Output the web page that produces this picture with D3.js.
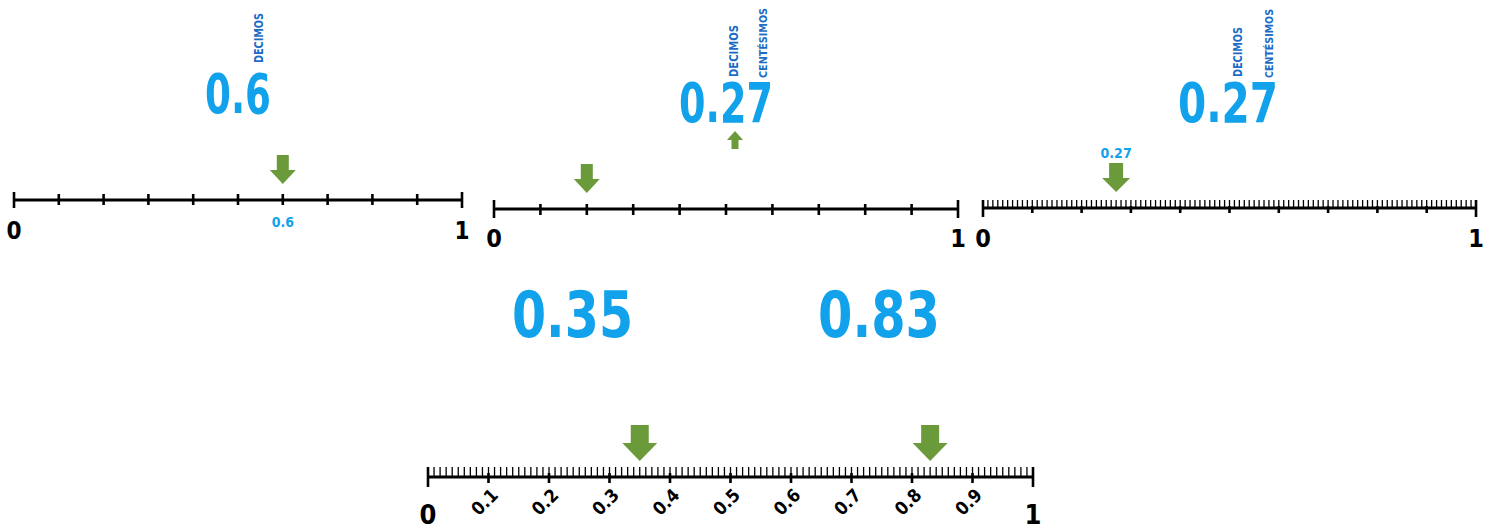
<!DOCTYPE html>
<html>
  <head>
    <title>Recta numérica: décimos y centésimos</title>
    <script src="https://d3js.org/d3.v7.min.js"></script>
    <style>
      body { margin: 0; background: #fff; }
      text { font-family: "Liberation Sans Narrow", "DejaVu Sans Condensed", sans-serif; font-weight: bold; }
      .big { fill: #12a2ec; }
      .word { fill: #1a6cc4; }
      .mark-label { fill: #12a2ec; }
      .end-label, .tick-label { fill: #000; }
      .arrow { fill: #6b9a3a; }
    </style>
  </head>
  <body>
    <svg width="1489" height="529"></svg>

    <script>
      // values
      const bigNumbers = ["0.6", "0.27", "0.27", "0.35", "0.83"];
      const arrowValues = [[0.6], [0.2], [0.27], [0.35, 0.83]];
      const markLabels = ["0.6", null, "0.27", null];
      const endLabels = ["0", "1"];
      const tenthLabels = ["0.1", "0.2", "0.3", "0.4", "0.5", "0.6", "0.7", "0.8", "0.9"];
      const placeWords = ["DECIMOS", "CENTÉSIMOS"];

      const svg = d3.select("svg");

      // down arrow with tip at (0,0)
      function arrowPath(w, shaft, h, head) {
        return `M${-shaft / 2},${-h} H${shaft / 2} V${-head} H${w / 2} L0,0 L${-w / 2},${-head} H${-shaft / 2} Z`;
      }

      function numberLine(selection, props) {
        const { x0, x1, y, endTick, majorTick, minor, minorTick, arrows, arrow,
                markLabel, markLabelY, endY, endSize, rotated } = props;
        const x = d3.scaleLinear().domain([0, 1]).range([x0, x1]);
        const g = selection.append("g");

        if (minor) {
          g.selectAll(".minor").data(d3.range(101).map(d => d / 100))
            .enter().append("line")
            .attr("x1", x).attr("x2", x)
            .attr("y1", y - minorTick).attr("y2", y)
            .attr("stroke", "#000").attr("stroke-width", 1.3);
        }

        g.append("line")
          .attr("x1", x0).attr("x2", x1).attr("y1", y).attr("y2", y)
          .attr("stroke", "#000").attr("stroke-width", 3);

        g.selectAll(".major").data(x.ticks(10))
          .enter().append("line")
          .attr("x1", x).attr("x2", x)
          .attr("y1", d => (d === 0 || d === 1) ? y - endTick[0] : y - majorTick[0])
          .attr("y2", d => (d === 0 || d === 1) ? y + endTick[1] : y + majorTick[1])
          .attr("stroke", "#000").attr("stroke-width", 2.6);

        g.selectAll(".end-label").data(endLabels)
          .enter().append("text")
          .attr("class", "end-label")
          .attr("x", (d, i) => x(i))
          .attr("y", endY)
          .attr("text-anchor", "middle")
          .attr("font-size", endSize)
          .text(d => d);

        if (rotated) {
          g.selectAll(".tick-label").data(tenthLabels)
            .enter().append("text")
            .attr("class", "tick-label")
            .attr("transform", (d, i) => `translate(${x((i + 1) / 10) - 4}, ${rotated}) rotate(-45)`)
            .attr("text-anchor", "middle")
            .attr("dy", "0.35em")
            .attr("font-size", 18)
            .text(d => d);
        }

        g.selectAll(".arrow").data(arrows)
          .enter().append("path")
          .attr("class", "arrow")
          .attr("transform", d => `translate(${x(d)}, ${arrow.tip})`)
          .attr("d", arrowPath(arrow.w, arrow.shaft, arrow.h, arrow.head));

        if (markLabel) {
          g.append("text")
            .attr("class", "mark-label")
            .attr("x", x(arrows[0]))
            .attr("y", markLabelY)
            .attr("text-anchor", "middle")
            .attr("font-size", 14)
            .text(markLabel);
        }
      }

      function bigNumber(selection, props) {
        const { text, x, y, width, size } = props;
        selection.append("text")
          .attr("class", "big")
          .attr("x", x).attr("y", y)
          .attr("font-size", size)
          .attr("textLength", width)
          .attr("lengthAdjust", "spacingAndGlyphs")
          .text(text);
      }

      function placeWord(selection, props) {
        const { text, x, y, length, size = 12.5 } = props;
        selection.append("text")
          .attr("class", "word")
          .attr("transform", `translate(${x}, ${y}) rotate(-90)`)
          .attr("font-size", size)
          .attr("textLength", length)
          .attr("lengthAdjust", "spacingAndGlyphs")
          .text(text);
      }

      const smallArrow = { w: 26, shaft: 12, h: 29, head: 14 };
      const bigArrow = { w: 35, shaft: 18, h: 36, head: 18 };

      // panel 1: décimos
      svg.call(bigNumber, { text: bigNumbers[0], x: 205, y: 113, width: 66, size: 56 });
      svg.call(placeWord, { text: placeWords[0], x: 263, y: 63, length: 50 });
      svg.call(numberLine, {
        x0: 14, x1: 462, y: 200, endTick: [8, 8], majorTick: [6, 5],
        arrows: arrowValues[0], arrow: { ...smallArrow, tip: 184 },
        markLabel: markLabels[0], markLabelY: 227, endY: 239, endSize: 24,
      });

      // panel 2: décimos y centésimos
      svg.call(bigNumber, { text: bigNumbers[1], x: 679, y: 122, width: 94, size: 56 });
      svg.call(placeWord, { text: placeWords[0], x: 738, y: 77, length: 52 });
      svg.call(placeWord, { text: placeWords[1], x: 767, y: 78, length: 70, size: 11 });
      svg.append("path")
        .attr("class", "arrow")
        .attr("transform", "translate(735, 131) scale(1, -1)")
        .attr("d", arrowPath(16, 7, 18, 9));
      svg.call(numberLine, {
        x0: 494, x1: 958, y: 209, endTick: [9, 9], majorTick: [5, 6],
        arrows: arrowValues[1], arrow: { ...smallArrow, tip: 193 },
        markLabel: markLabels[1], endY: 247, endSize: 25,
      });

      // panel 3: centésimos
      svg.call(bigNumber, { text: bigNumbers[2], x: 1178, y: 122, width: 100, size: 56 });
      svg.call(placeWord, { text: placeWords[0], x: 1242, y: 77, length: 50 });
      svg.call(placeWord, { text: placeWords[1], x: 1273, y: 78, length: 69, size: 11 });
      svg.call(numberLine, {
        x0: 983, x1: 1476, y: 208, endTick: [8, 9], majorTick: [2, 5],
        minor: true, minorTick: 8,
        arrows: arrowValues[2], arrow: { ...smallArrow, w: 28, shaft: 14, tip: 192 },
        markLabel: markLabels[2], markLabelY: 158, endY: 247, endSize: 25,
      });

      // panel 4: two values on one line
      svg.call(bigNumber, { text: bigNumbers[3], x: 512, y: 337, width: 121, size: 64 });
      svg.call(bigNumber, { text: bigNumbers[4], x: 818, y: 337, width: 122, size: 64 });
      svg.call(numberLine, {
        x0: 428, x1: 1033, y: 477, endTick: [10, 10], majorTick: [4, 6],
        minor: true, minorTick: 10,
        arrows: arrowValues[3], arrow: { ...bigArrow, tip: 461 },
        endY: 524, endSize: 27, rotated: 502,
      });
    </script>
  </body>
</html>
